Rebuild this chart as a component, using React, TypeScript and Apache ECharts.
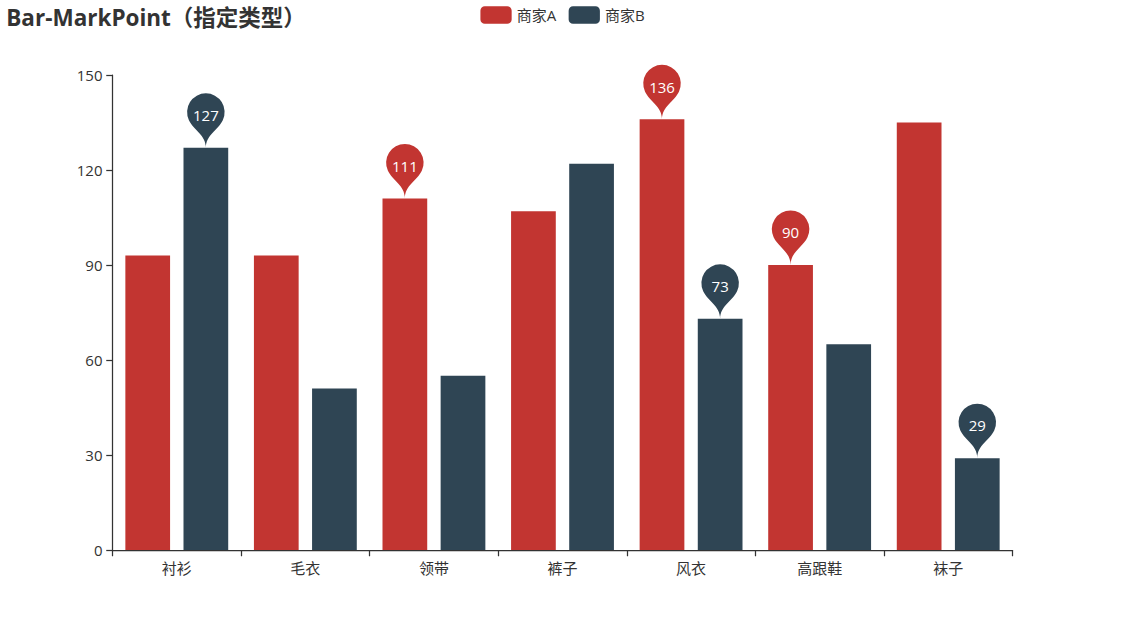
import React, { useEffect, useRef } from "react";
import * as echarts from "echarts";

const categories = ["衬衫", "毛衣", "领带", "裤子", "风衣", "高跟鞋", "袜子"];
const seriesA = [93, 93, 111, 107, 136, 90, 135];
const seriesB = [127, 51, 55, 122, 73, 65, 29];
const seriesNames = ["商家A", "商家B"];
const colors = ["#c23531", "#2f4554"];
const yTicks = { min: 0, max: 150, interval: 30 };

const S = 1.25;
const FONT = "'Microsoft YaHei', 'Open Sans', 'Noto Sans CJK SC', sans-serif";

export default function App() {
  const ref = useRef<HTMLDivElement>(null);
  useEffect(() => {
    if (!ref.current) return;
    const chart = echarts.init(ref.current, undefined, { renderer: "svg" });
    const markPoint = {
      symbol: "pin",
      symbolSize: 50 * S,
      label: { show: true, color: "#fff", fontSize: 12 * S, fontFamily: FONT },
      data: [{ type: "max" }, { type: "min" }, { type: "average" }],
    };
    chart.setOption({
      animation: false,
      color: colors,
      textStyle: { fontFamily: FONT },
      title: {
        text: "Bar-MarkPoint（指定类型）",
        left: 5 * S,
        top: 5 * S,
        padding: 0,
        textStyle: { fontSize: 18 * S, fontWeight: "bold", color: "#333", fontFamily: FONT },
      },
      legend: {
        data: seriesNames,
        top: 5 * S,
        left: "center",
        padding: 0,
        itemWidth: 25 * S,
        itemHeight: 14 * S,
        itemGap: 10 * S,
        icon: "roundRect",
        textStyle: { fontSize: 12 * S, color: "#333", fontFamily: FONT },
      },
      grid: { left: "10%", right: "10%", top: 60 * S, bottom: 60 * S },
      xAxis: {
        type: "category",
        data: categories,
        axisLine: { show: true, lineStyle: { color: "#333", width: S } },
        axisTick: { show: true, alignWithLabel: false, length: 5 * S, lineStyle: { color: "#333", width: S } },
        axisLabel: { color: "#333", fontSize: 12 * S, margin: 8 * S, fontFamily: FONT },
        splitLine: { show: false },
      },
      yAxis: {
        type: "value",
        min: yTicks.min,
        max: yTicks.max,
        interval: yTicks.interval,
        axisLine: { show: true, lineStyle: { color: "#333", width: S } },
        axisTick: { show: true, length: 5 * S, lineStyle: { color: "#333", width: S } },
        axisLabel: { color: "#333", fontSize: 12 * S, margin: 8 * S, fontFamily: FONT },
        splitLine: { show: false },
      },
      series: [
        {
          name: seriesNames[0],
          type: "bar",
          data: seriesA,
          barGap: "30%",
          barCategoryGap: "20%",
          itemStyle: { color: colors[0] },
          markPoint: { ...markPoint, itemStyle: { color: colors[0] } },
        },
        {
          name: seriesNames[1],
          type: "bar",
          data: seriesB,
          barGap: "30%",
          barCategoryGap: "20%",
          itemStyle: { color: colors[1] },
          markPoint: { ...markPoint, itemStyle: { color: colors[1] } },
        },
      ],
    });
    return () => chart.dispose();
  }, []);
  return (
    <div
      ref={ref}
      style={{ position: "fixed", left: 0, top: 0, width: 1125, height: 625, background: "#fff" }}
    />
  );
}
